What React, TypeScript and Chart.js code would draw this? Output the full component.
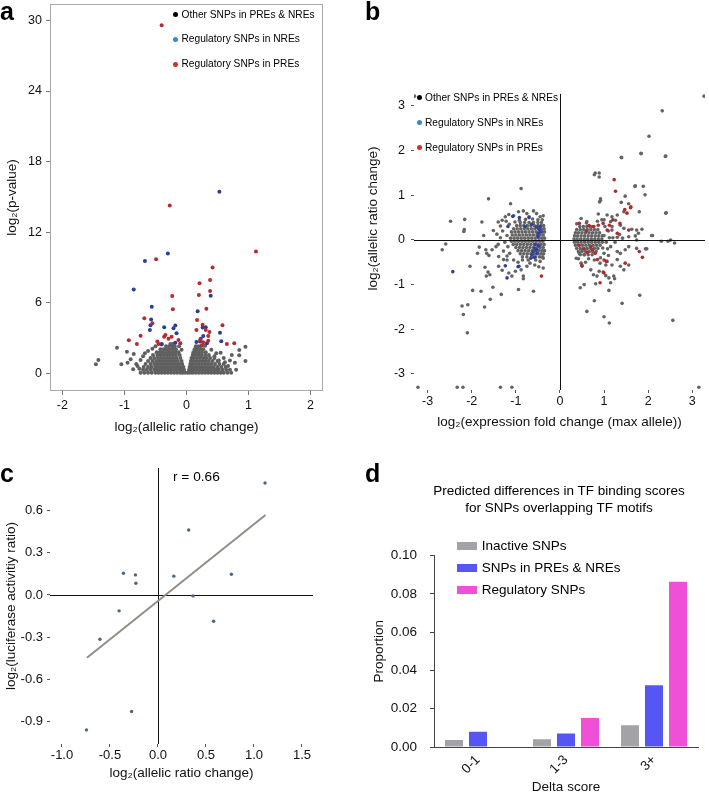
import React, { useEffect, useRef } from "react";
import { Chart, registerables } from "chart.js";

Chart.register(...registerables);

const FONT = "'Liberation Sans', Arial, Helvetica, sans-serif";

// ---------------- Panel a data ----------------
const aXTicks = [-2, -1, 0, 1, 2];
const aYTicks = [0, 6, 12, 18, 24, 30];
const aPre: number[][] = [
  [-0.4, 29.6], [-0.27, 14.27], [-0.49, 9.7], [1.12, 10.35], [0.42, 9.0], [0.21, 7.66], [0.38, 7.94],
  [0.38, 7.0], [0.2, 6.67], [-0.23, 6.58], [-0.22, 5.45], [0.32, 5.5], [-0.68, 4.68], [-0.55, 4.26],
  [0.17, 4.54], [0.26, 4.14], [0.58, 4.09], [0.16, 3.69], [0.31, 3.69], [0.37, 3.52], [0.35, 3.18],
  [-0.74, 3.2], [-0.93, 2.81], [-0.8, 2.5], [-0.34, 3.26], [-0.36, 3.12], [-0.29, 2.95], [-0.24, 3.12],
  [-0.13, 2.84], [-0.47, 2.7], [-0.45, 2.5], [-0.1, 2.55], [0.22, 2.84], [0.25, 2.38], [0.35, 2.78],
  [0.65, 2.5], [0.77, 2.55], [0.27, 2.64],
];
const aNre: number[][] = [
  [0.53, 15.44], [-0.3, 10.18], [-0.67, 9.56], [-0.85, 7.12], [0.39, 6.6], [-0.56, 5.67], [0.18, 5.28],
  [-0.57, 4.57], [-0.58, 4.09], [-0.59, 3.69], [-0.36, 3.91], [-0.21, 3.83], [-0.18, 4.06], [-0.16, 3.4],
  [0.26, 3.89], [0.31, 3.91], [0.27, 3.18], [0.23, 2.95], [0.54, 3.46], [0.56, 2.72], [-0.4, 2.5],
  [-0.18, 2.6], [0.16, 2.67], [0.33, 2.55], [0.22, 2.7],
];
// dense cloud rows: [y, x values]
const aGrayLeftRows: [number, number[]][] = [
  [0.05, [-0.74, -0.68, -0.62, -0.56, -0.5, -0.45, -0.4, -0.35, -0.3, -0.25, -0.2, -0.15, -0.1, -0.06, -0.02]],
  [0.3, [-0.7, -0.64, -0.58, -0.52, -0.47, -0.42, -0.37, -0.32, -0.27, -0.22, -0.17, -0.12, -0.08, -0.04]],
  [0.55, [-0.69, -0.62, -0.56, -0.5, -0.45, -0.4, -0.35, -0.3, -0.25, -0.2, -0.15, -0.1, -0.05]],
  [0.8, [-0.66, -0.58, -0.52, -0.47, -0.42, -0.37, -0.32, -0.27, -0.22, -0.17, -0.12, -0.07]],
  [1.05, [-0.62, -0.55, -0.49, -0.44, -0.39, -0.34, -0.29, -0.24, -0.19, -0.14, -0.08]],
  [1.3, [-0.58, -0.52, -0.46, -0.41, -0.36, -0.31, -0.26, -0.21, -0.16, -0.1]],
  [1.55, [-0.54, -0.47, -0.42, -0.37, -0.32, -0.27, -0.22, -0.17, -0.11]],
  [1.8, [-0.48, -0.43, -0.38, -0.33, -0.28, -0.23, -0.18, -0.13]],
  [2.05, [-0.42, -0.37, -0.32, -0.27, -0.22, -0.17]],
  [2.3, [-0.33, -0.28, -0.23, -0.19]],
  [2.5, [-0.26, -0.22]],
];
const aGrayRightRows: [number, number[]][] = [
  [0.05, [0.02, 0.06, 0.1, 0.15, 0.2, 0.25, 0.3, 0.35, 0.4, 0.45, 0.5, 0.55, 0.6, 0.66, 0.72]],
  [0.3, [0.04, 0.08, 0.12, 0.17, 0.22, 0.27, 0.32, 0.37, 0.42, 0.47, 0.52, 0.58, 0.64, 0.7]],
  [0.55, [0.05, 0.09, 0.14, 0.19, 0.24, 0.29, 0.34, 0.39, 0.44, 0.5, 0.56, 0.63]],
  [0.8, [0.06, 0.1, 0.15, 0.2, 0.25, 0.3, 0.35, 0.4, 0.46, 0.53, 0.6]],
  [1.05, [0.07, 0.11, 0.16, 0.21, 0.26, 0.31, 0.36, 0.42, 0.5]],
  [1.3, [0.08, 0.12, 0.17, 0.22, 0.27, 0.32, 0.38, 0.45]],
  [1.55, [0.1, 0.14, 0.19, 0.24, 0.3, 0.36]],
  [1.8, [0.11, 0.15, 0.2, 0.25, 0.31]],
  [2.05, [0.13, 0.17, 0.22, 0.27]],
  [2.3, [0.15, 0.19, 0.23]],
];
const aGrayScatter: number[][] = [
  [-1.46, 0.77], [-1.42, 1.13], [-1.12, 2.18], [-1.05, 0.77], [-0.96, 1.84], [-0.95, 0.91], [-0.85, 1.65],
  [-0.81, 0.79], [-0.79, 0.62], [-0.67, 1.7], [-0.74, 1.13], [-0.76, 0.4], [-0.7, 1.45], [-0.62, 1.9],
  [-0.55, 2.1], [-0.5, 2.3], [-0.4, 2.45], [-0.12, 2.3], [-0.08, 2.0], [0.95, 2.27], [0.95, 1.05],
  [0.85, 1.99], [0.85, 1.53], [0.73, 1.56], [0.67, 0.62], [0.78, 0.9], [0.6, 1.3], [0.55, 1.75],
  [0.48, 1.7], [0.62, 0.95], [0.8, 0.3], [0.7, 1.1], [0.4, 2.0], [0.3, 2.35], [0.45, 1.45], [0.52, 1.1],
  [-0.86, 0.35], [-0.9, 1.2],
];

// ---------------- Panel b data ----------------
const bXTicks = [-3, -2, -1, 0, 1, 2, 3];
const bYTicks = [-3, -2, -1, 0, 1, 2, 3];
const bPre: number[][] = [
  [1.23, 1.35], [1.26, 1.09], [1.61, 0.74], [1.52, 0.6], [1.6, 0.72], [1.47, 0.68], [0.44, 0.37], [0.6, 0.2],
  [0.87, 0.33], [0.98, 0.37], [0.75, 0.3], [1.56, 0.22], [1.3, 0.15], [1.07, 0.22], [1.2, 0.45], [1.36, 0.37],
  [0.43, -0.12], [0.55, -0.2], [0.62, -0.28], [0.7, -0.15], [0.74, -0.22], [0.85, -0.44], [0.5, -0.57],
  [1.0, -0.45], [1.05, -0.48], [0.98, -0.72], [1.0, -0.74], [1.48, -0.52], [1.8, -0.26], [1.87, -0.39],
  [0.91, -0.96], [-0.42, -0.81], [0.66, 0.32], [0.8, -0.3], [1.12, 0.33],
];
const bNre: number[][] = [
  [-1.07, 0.53], [-0.92, 0.5], [-0.7, 0.5], [-1.18, 0.3], [-0.79, 0.3], [-0.64, 0.35], [-0.53, 0.29],
  [-0.47, 0.24], [-0.43, 0.18], [-0.49, 0.15], [-0.57, -0.19], [-0.61, -0.26], [-0.63, -0.33], [-0.53, -0.22],
  [-0.48, -0.13], [-0.66, -0.41], [-0.58, -0.39], [-0.52, -0.3], [-0.93, -0.59], [-0.95, -0.6], [-1.24, -0.58],
  [-1.2, -0.85], [-2.43, -0.71], [-0.45, 0.3], [-0.5, 0.08], [-0.56, -0.1],
];
const bGrayLeftRows: [number, number[]][] = [
  [0.39, [-0.9, -0.8, -0.7, -0.6, -0.5, -0.42]],
  [0.32, [-0.98, -0.9, -0.82, -0.74, -0.66, -0.58, -0.5, -0.43, -0.37]],
  [0.25, [-1.05, -0.97, -0.89, -0.81, -0.73, -0.65, -0.57, -0.49, -0.42, -0.36]],
  [0.18, [-1.1, -1.02, -0.94, -0.86, -0.78, -0.7, -0.62, -0.54, -0.47, -0.4, -0.35]],
  [0.11, [-1.08, -1.0, -0.92, -0.84, -0.76, -0.68, -0.6, -0.52, -0.45, -0.38]],
  [0.04, [-1.12, -1.04, -0.96, -0.88, -0.8, -0.72, -0.64, -0.56, -0.48, -0.41, -0.35]],
  [-0.03, [-1.1, -1.02, -0.94, -0.86, -0.78, -0.7, -0.62, -0.54, -0.46, -0.39]],
  [-0.1, [-1.06, -0.98, -0.9, -0.82, -0.74, -0.66, -0.58, -0.5, -0.43, -0.36]],
  [-0.17, [-1.0, -0.92, -0.84, -0.76, -0.68, -0.6, -0.52, -0.45, -0.38]],
  [-0.24, [-0.95, -0.87, -0.79, -0.71, -0.63, -0.55, -0.48, -0.41, -0.35]],
  [-0.31, [-0.9, -0.82, -0.74, -0.66, -0.58, -0.5, -0.43, -0.37]],
  [-0.38, [-0.85, -0.75, -0.65, -0.55, -0.46, -0.39]],
];
const bGrayRightRows: [number, number[]][] = [
  [0.3, [0.45, 0.53, 0.61, 0.69, 0.77]],
  [0.23, [0.38, 0.46, 0.54, 0.62, 0.7, 0.78, 0.86]],
  [0.16, [0.35, 0.42, 0.5, 0.58, 0.66, 0.74, 0.82, 0.9]],
  [0.09, [0.33, 0.4, 0.48, 0.56, 0.64, 0.72, 0.8, 0.88, 0.96]],
  [0.02, [0.32, 0.39, 0.47, 0.55, 0.63, 0.71, 0.79, 0.87, 0.95]],
  [-0.05, [0.33, 0.4, 0.48, 0.56, 0.64, 0.72, 0.8, 0.88, 0.96]],
  [-0.12, [0.35, 0.43, 0.51, 0.59, 0.67, 0.75, 0.83, 0.91]],
  [-0.19, [0.38, 0.46, 0.54, 0.62, 0.7, 0.78, 0.86]],
  [-0.26, [0.42, 0.5, 0.58, 0.66, 0.74, 0.82]],
  [-0.33, [0.46, 0.55, 0.64, 0.73]],
];
const bGrayScatter: number[][] = [
  [-0.88, 1.15], [-1.62, 0.92], [-1.12, 0.81], [-2.48, 0.42], [-2.16, 0.46], [-1.77, 0.4], [-2.18, 0.19],
  [-2.17, 0.23], [-1.73, 0.1], [-1.4, 0.4], [-1.31, 0.44], [-1.35, 0.31], [-1.24, 0.52], [-1.16, 0.57],
  [-1.05, 0.54], [-0.94, 0.63], [-0.83, 0.65], [-0.75, 0.59], [-0.7, 0.52], [-0.6, 0.65], [-0.53, 0.59],
  [-0.45, 0.52], [-0.38, 0.54], [-1.51, 0.21], [-1.43, 0.13], [-2.59, -0.09], [-2.67, -0.22], [-1.83, -0.16],
  [-1.68, -0.22], [-1.66, -0.3], [-1.87, -0.3], [-1.61, -0.35], [-1.54, -0.22], [-1.45, -0.15], [-1.39, -0.37],
  [-1.28, -0.44], [-1.2, -0.36], [-2.04, -0.59], [-1.7, -0.61], [-1.63, -0.72], [-1.59, -0.78], [-1.67, -0.81],
  [-1.39, -0.59], [-1.31, -0.68], [-1.16, -0.74], [-1.09, -0.81], [-1.01, -0.7], [-0.83, -0.81], [-0.88, -0.67],
  [-0.75, -0.59], [-0.68, -0.52], [-0.57, -0.56], [-0.45, -0.48], [-0.38, -0.41], [-0.38, -0.63], [-0.6, -1.15],
  [-0.94, -1.11], [-1.33, -1.22], [-1.52, -1.06], [-1.79, -1.15], [-1.98, -1.13], [-1.58, -1.33], [-1.71, -1.5],
  [-2.22, -1.48], [-2.09, -1.45], [-2.19, -1.67], [-2.1, -2.08], [-0.83, -0.87], [-1.2, 0.1], [-1.25, -0.05],
  [-1.18, -0.15], [-1.3, 0.2], [-1.15, 0.35], [-1.22, 0.42], [-1.28, -0.25], [-1.14, -0.3], [-1.2, -0.45],
  [-1.05, -0.45], [-0.95, -0.5], [-0.85, -0.45], [-0.72, -0.45], [-0.55, -0.45], [-0.48, -0.6], [-1.35, 0.05],
  [-1.4, -0.1], [-0.5, 0.45], [-0.62, 0.47], [-0.78, 0.46], [-0.92, 0.44], [-1.02, 0.4], [-0.4, 0.45],
  [1.39, 1.85], [1.84, 1.93], [2.39, 1.87], [0.78, 1.46], [0.89, 1.5], [0.89, 1.41], [1.71, 1.21], [1.89, 1.2],
  [1.93, 1.01], [1.48, 0.98], [0.92, 0.89], [0.9, 0.85], [1.39, 0.84], [1.56, 0.81], [1.45, 0.63], [1.8, 0.63],
  [2.41, 0.61], [0.87, 0.58], [1.07, 0.56], [1.18, 0.52], [1.3, 0.56], [1.26, 0.44], [1.15, 0.41], [0.48, 0.48],
  [0.61, 0.41], [1.37, 0.33], [1.45, 0.26], [1.63, 0.24], [1.74, 0.22], [1.86, 0.24], [1.78, 0.15], [1.18, 0.22],
  [2.1, 0.1], [2.3, -0.03], [2.51, 0.0], [2.6, -0.07], [1.74, 0.0], [1.71, 0.09], [1.56, 0.07], [1.42, 0.04],
  [1.3, 0.06], [1.56, -0.15], [1.74, -0.19], [1.94, -0.2], [1.48, -0.22], [1.37, -0.3], [1.3, -0.26],
  [1.56, -0.56], [1.3, -0.44], [1.37, -0.59], [1.45, -0.67], [1.18, -0.56], [1.07, -0.48], [1.04, -0.56],
  [0.91, -0.52], [0.66, -0.26], [0.5, -0.22], [0.55, -0.33], [0.44, -0.3], [0.37, -0.41], [0.48, -0.52],
  [0.5, -0.59], [0.7, -0.67], [0.76, -0.78], [0.84, -0.81], [0.89, -0.7], [1.04, -0.8], [1.11, -0.85],
  [1.22, -0.81], [1.24, -0.87], [0.81, -0.98], [1.15, -0.96], [0.55, -1.0], [0.46, -1.07], [1.11, -1.13],
  [1.81, -1.24], [0.78, -1.36], [0.61, -1.6], [1.0, -1.72], [1.12, -1.86], [1.41, -1.42], [2.56, -1.8],
  [2.32, 2.89], [2.02, 2.32], [1.84, 1.94], [2.4, 1.88], [1.4, 1.84], [0.8, 1.5], [1.7, 1.2], [0.92, 0.92],
  [2.4, 0.6], [2.08, 0.1], [2.45, -0.03], [1.97, -0.2], [1.0, 0.1], [1.05, -0.05], [1.1, 0.2], [1.15, -0.15],
  [1.2, 0.05], [1.0, -0.3], [1.1, -0.35], [0.95, 0.45], [1.02, 0.3], [1.25, -0.05], [1.35, 0.12], [0.92, -0.4],
  [1.08, -0.2], [1.18, 0.3], [0.97, -0.18], [1.12, 0.05], [1.0, 0.45], [0.85, 0.42], [0.6, 0.38], [0.38, 0.36],
  [0.42, -0.42], [0.65, -0.42], [0.78, -0.45], [0.58, -0.5],
  [-3.22, -3.3], [-2.33, -3.3], [-2.2, -3.3], [-1.35, -3.3], [-1.09, -3.3], [3.15, -3.3], [-3.3, 3.22], [3.27, 3.22],
];

// ---------------- Panel c data ----------------
const cXTicks = [-1.0, -0.5, 0.0, 0.5, 1.0, 1.5];
const cYTicks = [-0.9, -0.6, -0.3, 0.0, 0.3, 0.6];
const cAllelic = [1.115, 0.32, -0.36, -0.235, -0.23, 0.165, 0.765, 0.365, -0.405, 0.58, -0.605, -0.275, -0.745];
const cLuciferase = [0.794, 0.46, 0.154, 0.142, 0.083, 0.133, 0.147, -0.007, -0.113, -0.187, -0.314, -0.827, -0.957];
const cFitX = [-0.74, 1.12];
const cFitY = [-0.445, 0.567];

// ---------------- Panel d data ----------------
const dCategories = ["0-1", "1-3", "3+"];
const dInactive = [0.0037, 0.004, 0.0113];
const dPreNre = [0.008, 0.0071, 0.0322];
const dRegulatory = [0, 0.0151, 0.0863];
const dYTicks = [0, 0.02, 0.04, 0.06, 0.08, 0.1];

// ---------------- helpers ----------------
const rowsToPts = (rows: [number, number[]][]) => rows.flatMap(([y, xs]) => xs.map((x) => ({ x, y })));
const pairsToPts = (pairs: number[][]) => pairs.map(([x, y]) => ({ x, y }));
const fixedTicks = (vals: number[]) => (s: any) => {
  s.ticks = vals.map((value) => ({ value }));
};
const font = (size: number) => ({ family: FONT, size });
const tickGrid = (len: number, color = "#555") => ({
  display: true,
  drawOnChartArea: false,
  drawTicks: true,
  tickLength: len,
  color,
  tickColor: color,
  lineWidth: 1,
});
const fitY = (w: number) => (s: any) => {
  s.width = w;
  s.paddingTop = 0;
  s.paddingBottom = 0;
};
const fitX = (h: number) => (s: any) => {
  s.height = h;
  s.paddingLeft = 0;
  s.paddingRight = 0;
};

const framePlugin = {
  id: "frame",
  beforeDatasetsDraw(chart: any) {
    const { ctx, chartArea } = chart;
    const { left, top, right, bottom } = chartArea;
    ctx.save();
    ctx.strokeStyle = "#a9a9a9";
    ctx.lineWidth = 1;
    ctx.strokeRect(left + 0.5, top + 0.5, right - left - 1, bottom - top - 1);
    ctx.restore();
  },
};

const zeroLines = (id: string, yTopValue: number | null, after: boolean) => {
  const draw = (chart: any) => {
    const { ctx, chartArea, scales } = chart;
    const x0 = Math.round(scales.x.getPixelForValue(0)) + 0.5;
    const y0 = Math.round(scales.y.getPixelForValue(0)) + 0.5;
    const top = yTopValue === null ? chartArea.top : scales.y.getPixelForValue(yTopValue);
    ctx.save();
    ctx.strokeStyle = "#111";
    ctx.lineWidth = 1;
    ctx.beginPath();
    ctx.moveTo(x0, top);
    ctx.lineTo(x0, chartArea.bottom);
    ctx.moveTo(chartArea.left, y0);
    ctx.lineTo(chartArea.right, y0);
    ctx.stroke();
    ctx.restore();
  };
  return after ? { id, afterDatasetsDraw: draw } : { id, beforeDatasetsDraw: draw };
};

const baseOptions = (padding: any) => ({
  responsive: false,
  maintainAspectRatio: false,
  animation: false,
  events: [],
  layout: { padding },
  plugins: { legend: { display: false }, tooltip: { enabled: false } },
});

// ---------------- configs ----------------
function configA(): any {
  const pt = (color: string) => ({ pointBackgroundColor: color, pointBorderWidth: 0, pointRadius: 2, showLine: false });
  return {
    type: "scatter",
    data: {
      datasets: [
        { label: "Regulatory SNPs in PREs", data: pairsToPts(aPre), ...pt("#b82a2e") },
        { label: "Regulatory SNPs in NREs", data: pairsToPts(aNre), ...pt("#2d3c98") },
        {
          label: "Other SNPs in PREs & NREs",
          data: [...rowsToPts(aGrayLeftRows), ...rowsToPts(aGrayRightRows), ...pairsToPts(aGrayScatter)],
          ...pt("#5f5f5f"),
        },
      ],
    },
    options: {
      ...baseOptions({ left: 0, top: 2, right: 12, bottom: 0 }),
      scales: {
        x: {
          type: "linear",
          min: -2.2,
          max: 2.2,
          afterBuildTicks: fixedTicks(aXTicks),
          afterFit: fitX(49),
          grid: tickGrid(4, "#777"),
          border: { display: false },
          ticks: { font: font(12.5), color: "#111", padding: 3.5, maxRotation: 0, minRotation: 0, autoSkip: false },
          title: { display: true, text: "log₂(allelic ratio change)", font: font(13.5), color: "#111", padding: { top: 0, bottom: 5 } },
        },
        y: {
          type: "linear",
          min: -1.5,
          max: 31.4,
          afterBuildTicks: fixedTicks(aYTicks),
          afterFit: fitY(50),
          grid: tickGrid(4, "#777"),
          border: { display: false },
          ticks: { font: font(12.5), color: "#111", padding: 4, autoSkip: false },
          title: { display: true, text: "log₂(p-value)", font: font(13.5), color: "#111", padding: { top: 4, bottom: 0 } },
        },
      },
    },
    plugins: [framePlugin],
  };
}

function configB(): any {
  const pt = (color: string) => ({ pointBackgroundColor: color, pointBorderWidth: 0, pointRadius: 1.8, showLine: false });
  return {
    type: "scatter",
    data: {
      datasets: [
        { label: "Regulatory SNPs in PREs", data: pairsToPts(bPre), ...pt("#b3282b") },
        { label: "Regulatory SNPs in NREs", data: pairsToPts(bNre), ...pt("#3040a0") },
        {
          label: "Other SNPs in PREs & NREs",
          data: [...rowsToPts(bGrayLeftRows), ...rowsToPts(bGrayRightRows), ...pairsToPts(bGrayScatter)],
          ...pt("#646464"),
        },
      ],
    },
    options: {
      ...baseOptions({ left: 0, top: 7, right: 0, bottom: 0 }),
      scales: {
        x: {
          type: "linear",
          min: -3.31,
          max: 3.29,
          afterBuildTicks: fixedTicks(bXTicks),
          afterFit: fitX(40),
          grid: tickGrid(3, "#555"),
          border: { display: false },
          ticks: { font: font(12.5), color: "#111", padding: 1, maxRotation: 0, minRotation: 0, autoSkip: false },
          title: {
            display: true,
            text: "log₂(expression fold change (max allele))",
            font: font(13.5),
            color: "#111",
            padding: { top: 0, bottom: 0 },
          },
        },
        y: {
          type: "linear",
          min: -3.36,
          max: 4.32,
          afterBuildTicks: fixedTicks(bYTicks),
          afterFit: fitY(69),
          grid: tickGrid(3, "#555"),
          border: { display: false },
          ticks: { font: font(12.5), color: "#111", padding: 6, autoSkip: false },
          title: { display: true, text: "log₂(allelic ratio change)", font: font(13.5), color: "#111", padding: { top: 20, bottom: 0 } },
        },
      },
    },
    plugins: [zeroLines("zeroB", 3.27, true)],
  };
}

function configC(): any {
  return {
    type: "scatter",
    data: {
      datasets: [
        {
          label: "Luciferase vs allelic ratio",
          data: cAllelic.map((x, i) => ({ x, y: cLuciferase[i] })),
          pointBackgroundColor: "#4a6684",
          pointBorderWidth: 0,
          pointRadius: 1.7,
          showLine: false,
        },
        {
          type: "line",
          label: "Linear fit",
          data: cFitX.map((x, i) => ({ x, y: cFitY[i] })),
          borderColor: "#8f8f86",
          borderWidth: 2,
          pointRadius: 0,
          showLine: true,
          fill: false,
        },
      ],
    },
    options: {
      ...baseOptions({ left: 0, top: 13, right: 17, bottom: 0 }),
      scales: {
        x: {
          type: "linear",
          min: -1.125,
          max: 1.615,
          afterBuildTicks: fixedTicks(cXTicks),
          afterFit: fitX(49),
          grid: tickGrid(3, "#555"),
          border: { display: false },
          ticks: {
            font: font(13),
            color: "#111",
            padding: 1,
            maxRotation: 0,
            minRotation: 0,
            autoSkip: false,
            callback: (v: number) => Number(v).toFixed(1),
          },
          title: { display: true, text: "log₂(allelic ratio change)", font: font(13.5), color: "#111", padding: { top: 0, bottom: 12 } },
        },
        y: {
          type: "linear",
          min: -1.057,
          max: 0.9,
          afterBuildTicks: fixedTicks(cYTicks),
          afterFit: fitY(50),
          grid: tickGrid(3, "#555"),
          border: { display: false },
          ticks: { font: font(13), color: "#111", padding: 4, autoSkip: false, callback: (v: number) => Number(v).toFixed(1) },
          title: {
            display: true,
            text: "log₂(luciferase activitiy ratio)",
            font: font(13.5),
            color: "#111",
            padding: { top: 3, bottom: 0 },
          },
        },
      },
    },
    plugins: [zeroLines("zeroC", null, false)],
  };
}

function configD(): any {
  const bar = (color: string) => ({
    backgroundColor: color,
    borderWidth: 0,
    categoryPercentage: 0.818,
    barPercentage: 0.75,
  });
  return {
    type: "bar",
    data: {
      labels: dCategories,
      datasets: [
        { label: "Inactive SNPs", data: dInactive, ...bar("#a3a3a7") },
        { label: "SNPs in PREs & NREs", data: dPreNre, ...bar("#5656f2") },
        { label: "Regulatory SNPs", data: dRegulatory, ...bar("#f050d8") },
      ],
    },
    options: {
      ...baseOptions({ left: 0, top: 85.5, right: 11, bottom: 0 }),
      scales: {
        x: {
          type: "category",
          afterFit: fitX(48),
          grid: { display: false, drawTicks: false },
          border: { display: true, color: "#444", width: 1 },
          ticks: { font: font(13.5), color: "#111", padding: 5, maxRotation: 45, minRotation: 45, autoSkip: false },
          title: { display: true, text: "Delta score", font: font(13.5), color: "#111", padding: { top: 0, bottom: 0 } },
        },
        y: {
          type: "linear",
          min: 0,
          max: 0.1,
          afterBuildTicks: fixedTicks(dYTicks),
          afterFit: fitY(74),
          grid: tickGrid(4, "#444"),
          border: { display: true, color: "#444", width: 1 },
          ticks: { font: font(13.5), color: "#111", padding: 13, autoSkip: false, callback: (v: number) => Number(v).toFixed(2) },
          title: { display: true, text: "Proportion", font: font(13.5), color: "#111", padding: { top: 11, bottom: 0 } },
        },
      },
    },
  };
}

// ---------------- components ----------------
function ChartCanvas({ left, top, width, height, make }: { left: number; top: number; width: number; height: number; make: () => any }) {
  const ref = useRef<HTMLCanvasElement>(null);
  useEffect(() => {
    const chart = new Chart(ref.current as HTMLCanvasElement, make());
    return () => chart.destroy();
  }, []);
  return <canvas ref={ref} width={width} height={height} style={{ position: "absolute", left, top, width, height }} />;
}

const abs = (left: number, top: number, extra: any = {}) => ({ position: "absolute" as const, left, top, whiteSpace: "nowrap" as const, ...extra });

const dotLegendItems = [
  { label: "Other SNPs in PREs & NREs", color: "#000000" },
  { label: "Regulatory SNPs in NREs", color: "#3b87c6" },
  { label: "Regulatory SNPs in PREs", color: "#d42e27" },
];
const barLegendItems = [
  { label: "Inactive SNPs", color: "#a3a3a7" },
  { label: "SNPs in PREs & NREs", color: "#5656f2" },
  { label: "Regulatory SNPs", color: "#f050d8" },
];

function DotLegend({ dotX, textX, ys }: { dotX: number; textX: number; ys: number[] }) {
  return (
    <>
      {dotLegendItems.map((it, i) => (
        <React.Fragment key={it.label}>
          <div style={abs(dotX - 2.5, ys[i] - 2.5, { width: 5, height: 5, borderRadius: "50%", background: it.color })} />
          <div style={abs(textX, ys[i] - 6, { fontSize: 10.2, lineHeight: "12px", color: "#000" })}>{it.label}</div>
        </React.Fragment>
      ))}
    </>
  );
}

function PanelLetter({ ch, left, top }: { ch: string; left: number; top: number }) {
  return <div style={abs(left, top, { fontSize: 25, lineHeight: "25px", fontWeight: 700, color: "#000" })}>{ch}</div>;
}

export default function App() {
  return (
    <div style={{ position: "absolute", left: 0, top: 0, width: 709, height: 793, background: "#fff", overflow: "hidden", fontFamily: FONT }}>
      <ChartCanvas left={0} top={0} width={335} height={440} make={configA} />
      <ChartCanvas left={345} top={40} width={364} height={390} make={configB} />
      <ChartCanvas left={0} top={455} width={330} height={338} make={configC} />
      <ChartCanvas left={360} top={470} width={349} height={325} make={configD} />

      <PanelLetter ch="a" left={0} top={-1.2} />
      <PanelLetter ch="b" left={365} top={-1.2} />
      <PanelLetter ch="c" left={0} top={460.8} />
      <PanelLetter ch="d" left={365} top={460.8} />

      <DotLegend dotX={175.7} textX={181.5} ys={[14.7, 39.3, 64]} />
      <DotLegend dotX={419.5} textX={425} ys={[97.7, 122.7, 147.7]} />

      <div style={abs(173, 469, { fontSize: 13.7, lineHeight: "16px", color: "#000" })}>r = 0.66</div>

      <div style={abs(409, 481.5, { width: 300, textAlign: "center", fontSize: 13.5, lineHeight: "17px", color: "#000" })}>
        Predicted differences in TF binding scores
        <br />
        for SNPs overlapping TF motifs
      </div>

      {barLegendItems.map((it, i) => (
        <React.Fragment key={it.label}>
          <div style={abs(457, 545.5 + i * 22.2 - 4, { width: 20, height: 8, background: it.color })} />
          <div style={abs(481.7, 545.5 + i * 22.2 - 8, { fontSize: 13.5, lineHeight: "16px", color: "#000" })}>{it.label}</div>
        </React.Fragment>
      ))}
    </div>
  );
}
